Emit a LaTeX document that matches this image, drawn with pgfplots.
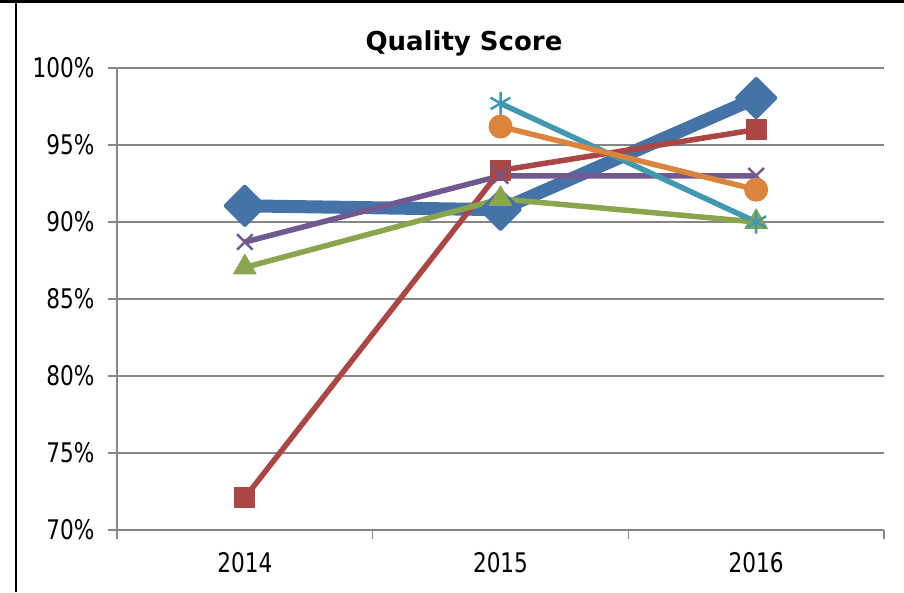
\documentclass[border=0pt]{standalone}
\usepackage{fontspec}
\setmainfont{DejaVu Sans}
\newfontfamily\tickfont[FakeStretch=0.8]{DejaVu Sans}
\usepackage{pgfplots}
\pgfplotsset{compat=1.18}
\definecolor{cBlue}{HTML}{4572A7}
\definecolor{cRed}{HTML}{AA4643}
\definecolor{cGreen}{HTML}{89A54E}
\definecolor{cPurple}{HTML}{71588F}
\definecolor{cCyan}{HTML}{4198AF}
\definecolor{cOrange}{HTML}{DB843D}
\definecolor{gridgray}{HTML}{868686}
\begin{document}
\begin{tikzpicture}[x=1pt,y=1pt]
\path[use as bounding box] (0,0) rectangle (904,592);
\draw[black, line width=3pt] (0,590.5) -- (904,590.5);
\draw[black, line width=2pt] (16,0) -- (16,592);
\node[font=\fontsize{26}{30}\selectfont\bfseries] at (464,549) {Quality Score};
\begin{axis}[
  at={(117pt,62pt)}, anchor=south west, scale only axis,
  width=767pt, height=462pt,
  xmin=0.5, xmax=3.5, ymin=70, ymax=100,
  axis lines=left,
  axis line style={-, draw=gridgray, line width=1.5pt},
  ytick={70,75,...,100},
  yticklabel={\pgfmathprintnumber{\tick}\%},
  yticklabel style={xshift=-10pt},
  xticklabel style={yshift=-19pt},
  xtick={0.5,1.5,2.5,3.5},
  xticklabels={},
  extra x ticks={1,2,3},
  extra x tick labels={2014,2015,2016},
  extra x tick style={major tick length=0pt, grid=none},
  tick align=outside,
  major tick length=9pt,
  tick style={draw=gridgray, line width=1.5pt},
  ymajorgrids,
  grid style={draw=gridgray, line width=1.5pt},
  ticklabel style={font=\tickfont\fontsize{27}{30}\selectfont, text=black},
  /pgf/number format/assume math mode=true,
  clip=false,
]
\addplot[cBlue, line width=13pt, line join=round, mark=square*, mark size=13.5pt,
  mark options={rotate=45, line width=4pt, line join=round, fill=cBlue}]
  coordinates {(1,91.05)(2,90.8)(3,98.05)};
\addplot[cRed, line width=5.5pt, line join=round, mark=square*, mark size=10pt,
  mark options={line width=1pt, fill=cRed}]
  coordinates {(1,72.1)(2,93.35)(3,96.0)};
\addplot[cGreen, line width=5.5pt, line join=round, mark=triangle*, mark size=13pt,
  mark options={line width=1pt, fill=cGreen}]
  coordinates {(1,87.05)(2,91.5)(3,90.0)};
\addplot[cPurple, line width=5.5pt, line join=round, mark=x, mark size=11pt,
  mark options={line width=2.5pt}]
  coordinates {(1,88.7)(2,93.0)(3,93.0)};
\addplot[cCyan, line width=5.5pt, line join=round, mark=asterisk, mark size=11.5pt,
  mark options={line width=2.5pt}]
  coordinates {(2,97.7)(3,90.0)};
\addplot[cOrange, line width=5.5pt, line join=round, mark=*, mark size=11.5pt,
  mark options={line width=1pt, fill=cOrange}]
  coordinates {(2,96.2)(3,92.1)};
\end{axis}
\end{tikzpicture}
\end{document}
